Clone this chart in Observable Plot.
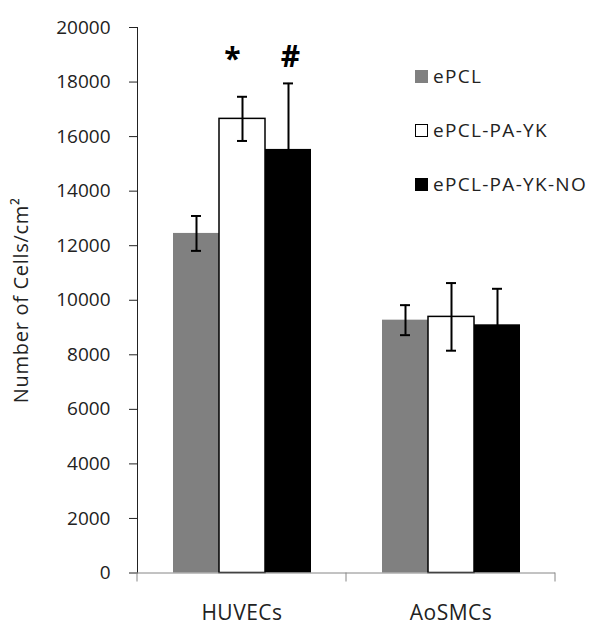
<!DOCTYPE html>
<html>
<head>
<meta charset="utf-8">
<script src="https://cdn.jsdelivr.net/npm/d3@7"></script>
<script src="https://cdn.jsdelivr.net/npm/@observablehq/plot@0.6"></script>
<style>
  html, body { margin: 0; padding: 0; background: #fff; }
  #wrap { position: relative; width: 602px; height: 637px; font-family: "Open Sans", sans-serif; }
  #legend { position: absolute; left: 415px; top: 49px; }
  .row { display: flex; align-items: center; height: 54px; font-size: 19px; letter-spacing: 1.3px; color: #222; white-space: nowrap; }
  .sw { width: 13px; height: 13px; box-sizing: border-box; margin-right: 5px; }
  svg [aria-label="y-axis tick"], svg [aria-label="y-axis line"] { stroke: #868686; }
  svg [aria-label="y-axis tick label"] { fill: #222; }
  svg [aria-label="fx-axis tick label"] { fill: #222; font-size: 21px; letter-spacing: 0.5px; }
  svg [aria-label="y-axis label"] { fill: #222; font-size: 20px; letter-spacing: 0.7px; }
</style>
</head>
<body>
<div id="wrap"><div id="legend"></div></div>
<script>
// ---- data ----
const categories = ["HUVECs", "AoSMCs"];
const series = ["ePCL", "ePCL-PA-YK", "ePCL-PA-YK-NO"];
const huvecMeans = [12450, 16650, 15530];
const huvecErrors = [640, 810, 2420];
const aosmcMeans = [9270, 9390, 9100];
const aosmcErrors = [550, 1240, 1320];
const yTicks = [0, 2000, 4000, 6000, 8000, 10000, 12000, 14000, 16000, 18000, 20000];
const yLabel = "Number of Cells/cm²";
const annotationLabels = ["*", "#"];
const annotationSeries = ["ePCL-PA-YK", "ePCL-PA-YK-NO"];
const annotationCategory = "HUVECs";
const annotationY = 18900;
const colors = ["#808080", "#ffffff", "#000000"];

const meansByCategory = [huvecMeans, aosmcMeans];
const errorsByCategory = [huvecErrors, aosmcErrors];
const table = categories.flatMap((c, i) =>
  series.map((s, j) => ({category: c, series: s, mean: meansByCategory[i][j], err: errorsByCategory[i][j]}))
);
const annotations = annotationLabels.map((l, i) => ({category: annotationCategory, series: annotationSeries[i], label: l, y: annotationY}));

const axisGray = "#868686";

const plot = Plot.plot({
  width: 602,
  height: 637,
  marginLeft: 136,
  marginRight: 47,
  marginTop: 27,
  marginBottom: 64.5,
  style: {fontFamily: "Open Sans, sans-serif", fontSize: "19px", color: "#222", background: "white"},
  fx: {domain: categories, padding: 0, label: null, axis: "bottom", tickSize: 0, tickPadding: 32},
  x: {domain: series, paddingInner: 0, paddingOuter: 0.745, axis: null},
  y: {domain: [0, 20000], ticks: yTicks, tickSize: 8, tickPadding: 19, line: true,
      label: yLabel, labelAnchor: "center", labelOffset: 124, labelArrow: "none", tickFormat: d => String(d)},
  color: {domain: series, range: colors},
  marks: [
    Plot.barY(table, {fx: "category", x: "series", y: "mean", fill: "series"}),
    Plot.barY(table, {fx: "category", x: "series", y: "mean", fill: "none", stroke: "#000", strokeWidth: 1.5,
      filter: d => d.series === series[1]}),
    Plot.ruleY([0], {stroke: axisGray}),
    Plot.ruleX(table, {fx: "category", x: "series", y1: d => d.mean - d.err, y2: d => d.mean + d.err, stroke: "#000", strokeWidth: 2}),
    Plot.tickY(table, {fx: "category", x: "series", y: d => d.mean + d.err, insetLeft: 18, insetRight: 18, stroke: "#000", strokeWidth: 2}),
    Plot.tickY(table, {fx: "category", x: "series", y: d => d.mean - d.err, insetLeft: 18, insetRight: 18, stroke: "#000", strokeWidth: 2}),
    Plot.text(annotations, {fx: "category", x: "series", y: "y", text: "label", fontSize: 30, fontWeight: "bold", fill: "#000",
      dx: -10, dy: 2, filter: d => d.label === "*"}),
    Plot.text(annotations, {fx: "category", x: "series", y: "y", text: "label", fontSize: 30, fontWeight: "bold", fill: "#000",
      dx: 2, filter: d => d.label === "#"})
  ]
});

// category boundary ticks on the x axis, placed from the fx and y scales
const fxs = plot.scale("fx");
const ys = plot.scale("y");
const y0 = ys.apply(0);
const edges = Array.from(new Set(categories.flatMap(c => {
  const l = fxs.apply(c);
  return [Math.round(l * 100) / 100, Math.round((l + fxs.bandwidth) * 100) / 100];
})));
d3.select(plot).append("g")
  .selectAll("line").data(edges).join("line")
  .attr("x1", d => d).attr("x2", d => d)
  .attr("y1", y0).attr("y2", y0 + 9)
  .attr("stroke", axisGray);

document.getElementById("wrap").prepend(plot);

// legend
const legend = d3.select("#legend");
series.forEach((s, i) => {
  const row = legend.append("div").attr("class", "row");
  row.append("div").attr("class", "sw")
    .style("background", colors[i])
    .style("border", colors[i] === "#ffffff" ? "1.5px solid #000" : "none");
  row.append("span").text(s);
});
</script>
</body>
</html>
